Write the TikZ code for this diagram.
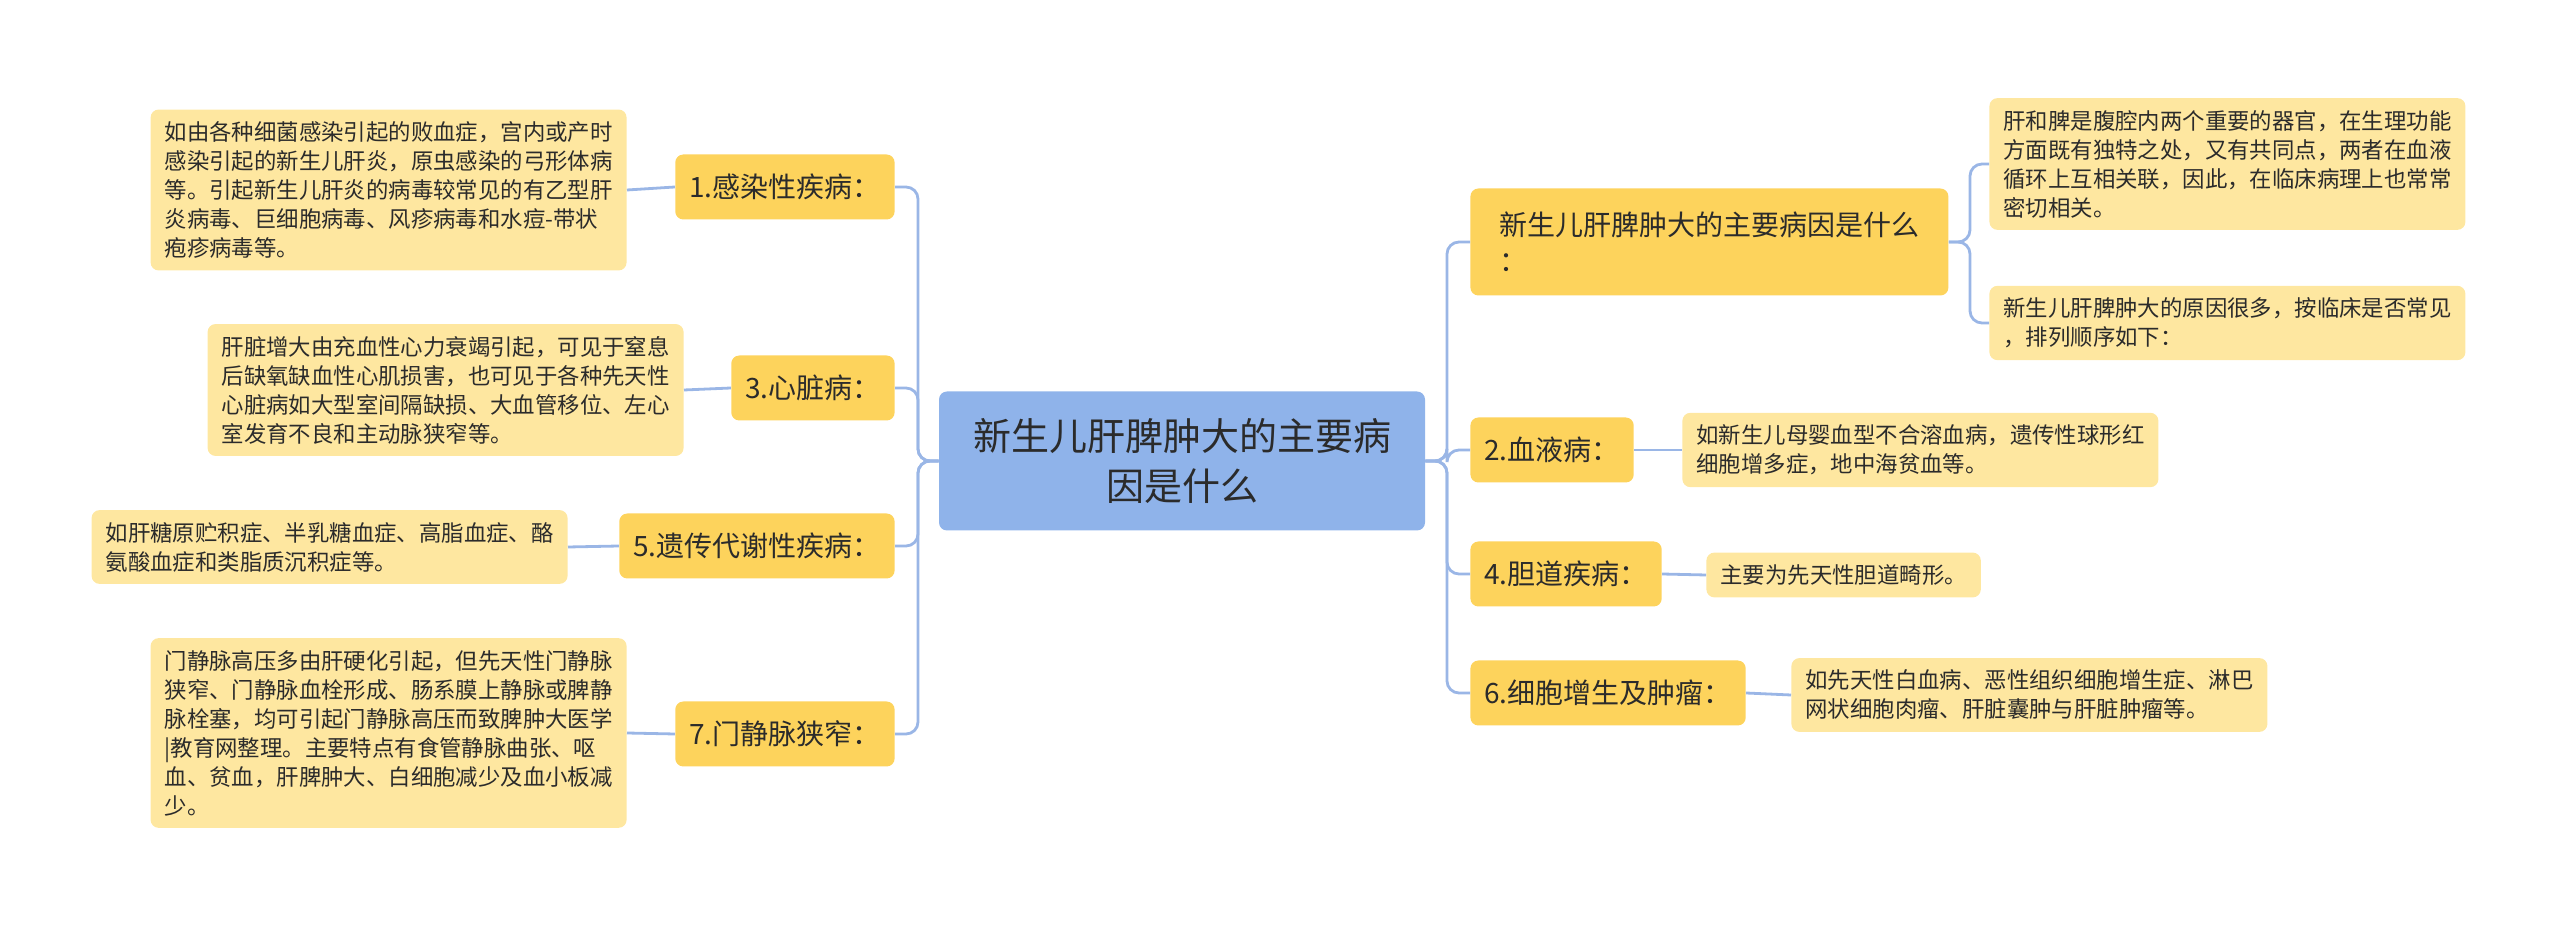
\documentclass[tikz,border=0pt]{standalone}
\usepackage{fontspec}
\setmainfont{Noto Sans CJK SC}
\definecolor{rootblue}{HTML}{8FB3EA}
\definecolor{catyellow}{HTML}{FDD35C}
\definecolor{leafyellow}{HTML}{FEE7A0}
\definecolor{linkblue}{HTML}{9AB6E6}
\definecolor{inkdark}{HTML}{2B2B2B}
\tikzset{
  rootbox/.style={fill=rootblue, rounded corners=4pt, text=inkdark, align=center,
    minimum width=243pt, minimum height=69.5pt, font=\fontsize{19}{25}\selectfont},
  catbox/.style={fill=catyellow, rounded corners=4pt, text=inkdark, align=left,
    minimum height=32.5pt, inner xsep=7pt, font=\fontsize{14}{18}\selectfont},
  leafbox/.style={fill=leafyellow, rounded corners=4pt, text=inkdark, align=left,
    inner xsep=7pt, inner ysep=6pt, font=\fontsize{11.2}{14.5}\selectfont},
  link/.style={draw=linkblue, line width=1.4pt, rounded corners=6pt}
}
\begin{document}
\begin{tikzpicture}[x=0.5pt, y=-0.5pt]
  \useasboundingbox (0,0) rectangle (2560,929);

  \node [rootbox] (root) at (1182,461) {新生儿肝脾肿大的主要病\\因是什么};

  % left side
  \node [catbox, anchor=east] (c1) at (895,187) {1.感染性疾病：};
  \node [catbox, anchor=east] (c3) at (895,388) {3.心脏病：};
  \node [catbox, anchor=east] (c5) at (895,546) {5.遗传代谢性疾病：};
  \node [catbox, anchor=east] (c7) at (895,734) {7.门静脉狭窄：};

  \node [leafbox, anchor=east] (l1) at (627,190) {如由各种细菌感染引起的败血症，宫内或产时\\感染引起的新生儿肝炎，原虫感染的弓形体病\\等。引起新生儿肝炎的病毒较常见的有乙型肝\\炎病毒、巨细胞病毒、风疹病毒和水痘-带状\\疱疹病毒等。};
  \node [leafbox, anchor=east] (l3) at (684,390) {肝脏增大由充血性心力衰竭引起，可见于窒息\\后缺氧缺血性心肌损害，也可见于各种先天性\\心脏病如大型室间隔缺损、大血管移位、左心\\室发育不良和主动脉狭窄等。};
  \node [leafbox, anchor=east] (l5) at (568,547) {如肝糖原贮积症、半乳糖血症、高脂血症、酪\\氨酸血症和类脂质沉积症等。};
  \node [leafbox, anchor=east] (l7) at (627,733) {门静脉高压多由肝硬化引起，但先天性门静脉\\狭窄、门静脉血栓形成、肠系膜上静脉或脾静\\脉栓塞，均可引起门静脉高压而致脾肿大医学\\|教育网整理。主要特点有食管静脉曲张、呕\\血、贫血，肝脾肿大、白细胞减少及血小板减\\少。};

  % right side
  \node [catbox, anchor=west, minimum width=239pt, minimum height=53.5pt] (c0) at (1470,242) {新生儿肝脾肿大的主要病因是什么\\：};
  \node [catbox, anchor=west] (c2) at (1470,450) {2.血液病：};
  \node [catbox, anchor=west] (c4) at (1470,574) {4.胆道疾病：};
  \node [catbox, anchor=west] (c6) at (1470,693) {6.细胞增生及肿瘤：};

  \node [leafbox, anchor=west] (r1) at (1989,164) {肝和脾是腹腔内两个重要的器官，在生理功能\\方面既有独特之处，又有共同点，两者在血液\\循环上互相关联，因此，在临床病理上也常常\\密切相关。};
  \node [leafbox, anchor=west] (r2) at (1989,323) {新生儿肝脾肿大的原因很多，按临床是否常见\\，排列顺序如下：};
  \node [leafbox, anchor=west] (r3) at (1682,450) {如新生儿母婴血型不合溶血病，遗传性球形红\\细胞增多症，地中海贫血等。};
  \node [leafbox, anchor=west] (r4) at (1706,575) {主要为先天性胆道畸形。};
  \node [leafbox, anchor=west] (r5) at (1791,695) {如先天性白血病、恶性组织细胞增生症、淋巴\\网状细胞肉瘤、肝脏囊肿与肝脏肿瘤等。};

  \coordinate (lt) at (918,461);
  \coordinate (rt) at (1447,461);
  \coordinate (st) at (1970,242);

  \foreach \n in {c1,c3,c5,c7}
    \draw [link] (root.west) -- (lt) |- (\n.east);
  \foreach \n in {c0,c2,c4,c6}
    \draw [link] (root.east) -- (rt) |- (\n.west);
  \foreach \n in {r1,r2}
    \draw [link] (c0.east) -- (st) |- (\n.west);

  \draw [link] (c1.west) -- (l1.east);
  \draw [link] (c3.west) -- (l3.east);
  \draw [link] (c5.west) -- (l5.east);
  \draw [link] (c7.west) -- (l7.east);
  \draw [link] (c2.east) -- (r3.west);
  \draw [link] (c4.east) -- (r4.west);
  \draw [link] (c6.east) -- (r5.west);
\end{tikzpicture}
\end{document}
